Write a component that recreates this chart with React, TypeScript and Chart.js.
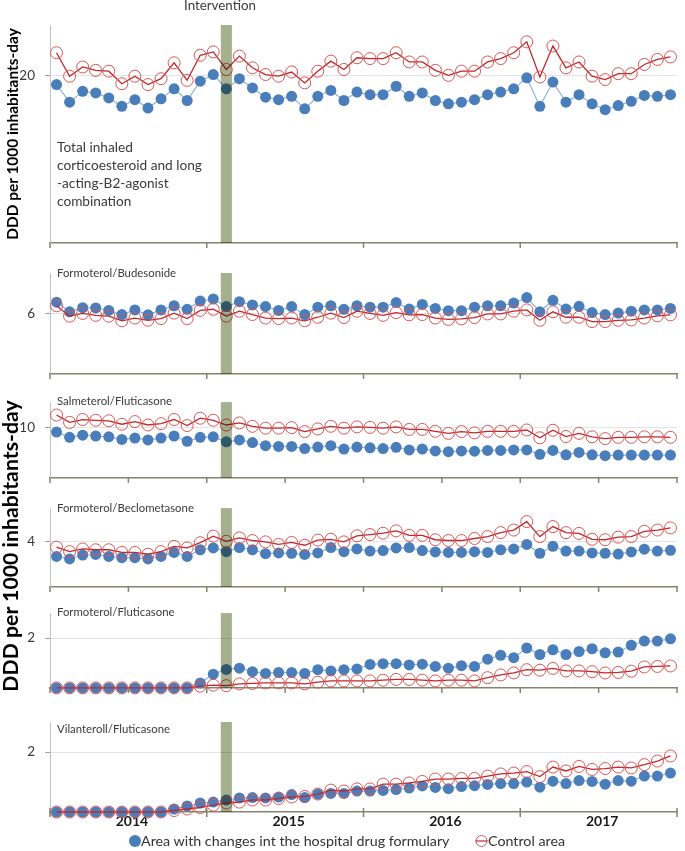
import React, { useEffect, useRef } from "react";
import { Chart, registerables } from "chart.js";

Chart.register(...registerables);

// ---------- categories ----------
const years = ["2014", "2015", "2016", "2017"];
const months = ["Jan", "Feb", "Mar", "Apr", "May", "Jun", "Jul", "Aug", "Sep", "Oct", "Nov", "Dec"];
const categories = years.flatMap((y) => months.map((m) => `${m} ${y}`));
const interventionMonth = "Feb 2015";

const seriesNames = ["Area with changes int the hospital drug formulary", "Control area"];
const yAxisTitle = "DDD per 1000 inhabitants-day";
const interventionLabel = "Intervention";
const totalTitleLines = ["Total inhaled", "corticoesteroid and long", "-acting-B2-agonist", "combination"];

// ---------- series values (DDD per 1000 inhabitants-day) ----------
const totalArea = [18.9, 16.8, 18.1, 17.9, 17.3, 16.3, 17.1, 16.1, 17.2, 18.4, 17.0, 19.3, 20.1, 18.4, 19.6, 18.5, 17.4, 17.1, 17.5, 16.0, 17.5, 18.2, 17.0, 18.0, 17.7, 17.7, 18.7, 17.5, 17.9, 17.0, 16.6, 16.8, 17.1, 17.7, 18.0, 18.4, 19.7, 16.3, 19.2, 16.8, 17.7, 16.6, 15.9, 16.4, 16.9, 17.6, 17.5, 17.7];
const totalControl = [22.7, 19.9, 21.0, 20.6, 20.5, 19.0, 19.9, 18.9, 19.6, 21.5, 19.4, 22.4, 22.8, 20.7, 22.3, 20.9, 20.1, 19.9, 20.4, 19.1, 20.5, 21.7, 20.7, 22.1, 22.0, 22.0, 22.7, 21.6, 21.6, 20.6, 20.0, 20.5, 20.5, 21.6, 22.0, 22.7, 24.0, 19.8, 23.5, 20.9, 21.6, 19.9, 19.5, 20.2, 20.2, 21.3, 21.9, 22.2];

const budArea = [7.11, 6.16, 6.57, 6.54, 6.3, 5.89, 6.35, 5.86, 6.35, 6.76, 6.41, 7.22, 7.43, 6.68, 7.16, 6.84, 6.68, 6.3, 6.68, 5.89, 6.62, 6.76, 6.41, 6.76, 6.62, 6.62, 7.08, 6.43, 6.89, 6.49, 6.27, 6.27, 6.62, 6.76, 6.76, 7.03, 7.57, 6.16, 7.3, 6.43, 6.7, 6.08, 5.89, 6.03, 6.22, 6.35, 6.35, 6.49];
const budControl = [6.76, 5.73, 6.0, 5.81, 5.73, 5.27, 5.54, 5.32, 5.49, 6.03, 5.49, 6.3, 6.41, 5.73, 6.22, 5.89, 5.54, 5.49, 5.54, 5.27, 5.62, 6.03, 5.59, 6.22, 6.0, 5.81, 6.08, 5.86, 5.89, 5.54, 5.41, 5.46, 5.59, 5.95, 5.95, 6.22, 6.35, 5.32, 6.16, 5.62, 5.62, 5.19, 5.19, 5.32, 5.35, 5.54, 5.76, 5.86];

const salArea = [9.07, 8.03, 8.45, 8.29, 8.13, 7.62, 7.88, 7.51, 7.88, 8.29, 7.25, 8.03, 8.13, 7.15, 7.51, 6.99, 6.37, 6.22, 6.22, 5.8, 6.11, 6.37, 5.7, 6.11, 5.96, 5.8, 6.06, 5.54, 5.7, 5.34, 5.18, 5.34, 5.28, 5.44, 5.44, 5.54, 5.54, 4.66, 5.44, 4.56, 5.03, 4.56, 4.4, 4.51, 4.51, 4.51, 4.51, 4.51];
const salControl = [12.44, 10.98, 11.55, 11.4, 11.3, 10.62, 11.14, 10.47, 10.73, 11.55, 10.36, 11.81, 11.4, 10.47, 10.88, 10.21, 9.84, 9.84, 9.95, 9.17, 9.69, 10.21, 9.84, 10.1, 10.0, 9.84, 10.1, 9.59, 9.59, 9.22, 8.81, 9.17, 8.91, 9.22, 9.22, 9.22, 9.48, 7.93, 9.43, 8.19, 8.81, 8.13, 7.77, 8.03, 8.03, 8.13, 8.13, 8.03];

const becArea = [2.71, 2.48, 2.83, 2.88, 2.71, 2.6, 2.6, 2.48, 2.71, 3.06, 2.71, 3.3, 3.46, 3.13, 3.49, 3.3, 2.95, 3.02, 2.99, 2.88, 3.02, 3.49, 3.13, 3.37, 3.18, 3.23, 3.46, 3.49, 3.23, 3.11, 3.06, 3.06, 3.13, 3.06, 3.3, 3.37, 3.77, 2.99, 3.6, 3.18, 3.18, 3.02, 2.99, 2.92, 3.11, 3.35, 3.18, 3.25];
const becControl = [3.53, 3.13, 3.37, 3.3, 3.3, 3.06, 3.06, 2.9, 3.13, 3.6, 3.46, 3.93, 4.51, 4.05, 4.35, 4.12, 4.0, 3.77, 3.95, 3.7, 4.16, 4.23, 4.0, 4.54, 4.65, 4.77, 4.98, 4.58, 4.58, 4.19, 4.12, 4.12, 4.3, 4.47, 4.82, 5.05, 5.8, 4.47, 5.36, 4.82, 4.75, 4.23, 4.19, 4.42, 4.47, 4.94, 5.05, 5.24];

const fluArea = [0, 0, 0, 0, 0, 0, 0, 0, 0, 0, 0, 0.2, 0.55, 0.74, 0.79, 0.65, 0.58, 0.62, 0.62, 0.58, 0.73, 0.68, 0.73, 0.76, 0.94, 0.97, 0.97, 0.92, 0.95, 0.86, 0.79, 0.89, 0.86, 1.15, 1.31, 1.21, 1.6, 1.34, 1.53, 1.34, 1.46, 1.57, 1.41, 1.44, 1.71, 1.88, 1.88, 1.97];
const fluControl = [0, 0, 0, 0, 0, 0, 0, 0, 0, 0, 0, 0.07, 0.11, 0.09, 0.16, 0.18, 0.2, 0.2, 0.2, 0.16, 0.23, 0.28, 0.28, 0.28, 0.28, 0.31, 0.34, 0.34, 0.31, 0.28, 0.31, 0.31, 0.28, 0.41, 0.52, 0.6, 0.73, 0.71, 0.78, 0.68, 0.68, 0.65, 0.6, 0.62, 0.67, 0.84, 0.86, 0.88];

const vilArea = [0, 0, 0, 0, 0, 0, 0, 0, 0, 0.1, 0.2, 0.3, 0.33, 0.4, 0.47, 0.48, 0.47, 0.5, 0.58, 0.48, 0.6, 0.62, 0.62, 0.7, 0.7, 0.72, 0.75, 0.8, 0.87, 0.82, 0.78, 0.85, 0.88, 0.92, 0.95, 0.95, 1.0, 0.83, 1.03, 0.95, 1.05, 1.02, 0.93, 1.05, 1.03, 1.2, 1.2, 1.3];
const vilControl = [0, 0, 0, 0, 0, 0, 0, 0, 0, 0.05, 0.1, 0.15, 0.23, 0.3, 0.33, 0.4, 0.4, 0.45, 0.5, 0.52, 0.6, 0.73, 0.7, 0.77, 0.77, 0.93, 0.93, 0.97, 1.02, 1.1, 1.1, 1.12, 1.12, 1.2, 1.27, 1.3, 1.35, 1.18, 1.5, 1.37, 1.52, 1.42, 1.45, 1.5, 1.47, 1.58, 1.7, 1.87];

const panelNames = ["", "Formoterol/Budesonide", "Salmeterol/Fluticasone", "Formoterol/Beclometasone", "Formoterol/Fluticasone", "Vilanteroll/Fluticasone"];
const panelMax = [26, 10, 15, 7, 3, 3];
const panelTick = [20, 6, 10, 4, 2, 2];

// ---------- layout (pixels) ----------
const W = 685;
const AXIS_LEFT = 50;
const PAD_RIGHT = 8;
const PAD_TOP = 8;
const panelLayout = [
  { top: 15, bottom: 253, every: 12, up: 0, down: 5 },
  { top: 263, bottom: 384, every: 12, up: 0, down: 5 },
  { top: 392, bottom: 488, every: 6, up: 0, down: 5 },
  { top: 498, bottom: 597, every: 6, up: 0, down: 5 },
  { top: 603, bottom: 698, every: 6, up: 0, down: 5 },
  { top: 712, bottom: 812, every: 12, up: -4, down: 5 },
];
const panelSeries = [
  [totalArea, totalControl],
  [budArea, budControl],
  [salArea, salControl],
  [becArea, becControl],
  [fluArea, fluControl],
  [vilArea, vilControl],
];

const FONT = "Lato";
const BLUE = "#4a7ebb";
const BLUE_LINE = "#8db3e2";
const RED_LINE = "#c0282d";
const RED_MARK = "#dc5555";
const BAR = "#a5b08f";
const AXIS = "#86846c";

let mctx: CanvasRenderingContext2D | null = null;
function fitSize(text: string, weight: number, target: number): number {
  if (!mctx) mctx = document.createElement("canvas").getContext("2d");
  if (!mctx) return 13;
  mctx.font = `${weight} 100px ${FONT}`;
  const w = mctx.measureText(text).width;
  return (100 * target) / w;
}

const axisMarks = {
  id: "axisMarks",
  afterDraw(chart: any, _args: any, opts: any) {
    const xs = chart.scales.x;
    const { ctx, chartArea } = chart;
    const step = xs.getPixelForValue(1) - xs.getPixelForValue(0);
    ctx.save();
    ctx.strokeStyle = AXIS;
    ctx.lineWidth = 1.5;
    for (let k = 0; k <= categories.length; k += opts.every) {
      const x = xs.getPixelForValue(k) - step / 2;
      ctx.beginPath();
      ctx.moveTo(x, chartArea.bottom + opts.up);
      ctx.lineTo(x, chartArea.bottom + opts.down);
      ctx.stroke();
    }
    ctx.restore();
  },
};

const multiplyBar = {
  id: "multiplyBar",
  beforeDatasetDraw(chart: any, args: any) {
    if (args.meta.type === "bar") {
      chart.ctx.save();
      chart.ctx.globalCompositeOperation = "multiply";
    }
  },
  afterDatasetDraw(chart: any, args: any) {
    if (args.meta.type === "bar") chart.ctx.restore();
  },
};

function Panel({ i }: { i: number }) {
  const ref = useRef<HTMLCanvasElement>(null);
  const lay = panelLayout[i];
  const last = i === panelLayout.length - 1;
  const xH = last ? 28 : 8;
  const h = PAD_TOP + (lay.bottom - lay.top) + xH;

  useEffect(() => {
    const [area, control] = panelSeries[i];
    const max = panelMax[i];
    const tick = panelTick[i];
    const chart = new Chart(ref.current as HTMLCanvasElement, {
      type: "line",
      data: {
        labels: categories,
        datasets: [
          {
            type: "bar",
            label: interventionLabel,
            data: categories.map((c) => (c === interventionMonth ? max : null)),
            backgroundColor: BAR,
            borderWidth: 0,
            barPercentage: 0.85,
            categoryPercentage: 1,
            order: 0,
          } as any,
          {
            label: seriesNames[0],
            data: area,
            borderColor: BLUE_LINE,
            borderWidth: 1.2,
            pointRadius: 5.5,
            pointBackgroundColor: BLUE,
            pointBorderColor: BLUE,
            pointBorderWidth: 0,
            tension: 0,
            clip: false,
            order: 2,
          } as any,
          {
            label: seriesNames[1],
            data: control,
            borderColor: RED_LINE,
            borderWidth: 1.3,
            pointRadius: 6,
            pointBackgroundColor: "rgba(0,0,0,0)",
            pointBorderColor: RED_MARK,
            pointBorderWidth: 1,
            tension: 0,
            clip: false,
            order: 1,
          } as any,
        ],
      },
      options: {
        animation: false,
        responsive: false,
        layout: { padding: { top: PAD_TOP, right: PAD_RIGHT, left: 0, bottom: 0 } },
        plugins: {
          legend: { display: false },
          tooltip: { enabled: false },
          axisMarks: { every: lay.every, up: lay.up, down: lay.down },
        } as any,
        scales: {
          x: {
            type: "category",
            offset: true,
            grid: { display: false, drawTicks: false, tickLength: 0 },
            border: { display: true, color: AXIS, width: 1.5 },
            ticks: last
              ? {
                  display: true,
                  autoSkip: false,
                  maxRotation: 0,
                  minRotation: 0,
                  padding: 1,
                  labelOffset: -3,
                  font: { family: FONT, size: 14, weight: "bold" },
                  color: "#1a1a1a",
                  callback: (_v: any, idx: number) => (idx % 12 === 6 ? years[Math.floor(idx / 12)] : ""),
                }
              : { display: false },
            afterFit: (s: any) => {
              s.height = xH;
            },
          },
          y: {
            min: 0,
            max,
            afterBuildTicks: (s: any) => {
              s.ticks = [{ value: tick }];
            },
            afterFit: (s: any) => {
              s.width = AXIS_LEFT;
            },
            grid: { color: "#e4e4e4", lineWidth: 1, drawTicks: true, tickLength: 5, tickColor: "#a0a0a0" },
            border: { display: true, color: "#c2c2c2", width: 1 },
            ticks: { font: { family: FONT, size: 13.5 }, color: "#3a3a3a", padding: 10 },
          },
        },
      } as any,
      plugins: [axisMarks, multiplyBar],
    });
    return () => chart.destroy();
  }, [i]);

  return (
    <div style={{ position: "absolute", left: 0, top: lay.top - PAD_TOP, width: W, height: h }}>
      <canvas ref={ref} width={W} height={h} style={{ display: "block" }} />
    </div>
  );
}

function Label(props: { text: string; x: number; cy: number; size: number; weight?: number; color?: string }) {
  const { text, x, cy, size, weight = 400, color = "#3a3a3a" } = props;
  return (
    <div
      style={{
        position: "absolute",
        left: x,
        top: cy,
        transform: "translateY(-50%)",
        fontFamily: FONT,
        fontSize: size,
        fontWeight: weight,
        lineHeight: 1,
        color,
        whiteSpace: "nowrap",
      }}
    >
      {text}
    </div>
  );
}

function VLabel(props: { text: string; cx: number; cy: number; size: number }) {
  const { text, cx, cy, size } = props;
  return (
    <div
      style={{
        position: "absolute",
        left: cx,
        top: cy,
        transform: "translate(-50%, -50%) rotate(-90deg)",
        fontFamily: FONT,
        fontSize: size,
        fontWeight: 700,
        lineHeight: 1,
        color: "#000",
        whiteSpace: "nowrap",
      }}
    >
      {text}
    </div>
  );
}

export default function App() {
  const panelSize = fitSize("Formoterol/Beclometasone", 400, 137);
  const totalSize = fitSize(totalTitleLines[1], 400, 145);
  const intSize = fitSize(interventionLabel, 400, 72);
  const smallTitle = fitSize(yAxisTitle, 700, 212);
  const bigTitle = fitSize(yAxisTitle, 700, 292);
  const legSize = fitSize(seriesNames[0], 400, 309);
  const panelLabelY = [0, 273, 401, 508, 612, 729];

  return (
    <div style={{ position: "absolute", left: 0, top: 0, width: W, height: 851, background: "#fff", overflow: "hidden" }}>
      {panelLayout.map((_, i) => (
        <Panel key={i} i={i} />
      ))}

      <Label text={interventionLabel} x={184} cy={6} size={intSize} />
      {totalTitleLines.map((t, k) => (
        <Label key={k} text={t} x={57} cy={148 + k * 18} size={totalSize} />
      ))}
      {panelNames.map((n, i) => (n ? <Label key={i} text={n} x={57} cy={panelLabelY[i]} size={panelSize} /> : null))}

      <VLabel text={yAxisTitle} cx={13} cy={134} size={smallTitle} />
      <VLabel text={yAxisTitle} cx={11} cy={546} size={bigTitle} />

      <svg style={{ position: "absolute", left: 128, top: 834 }} width={14} height={14}>
        <circle cx={7} cy={7} r={6} fill={BLUE} />
      </svg>
      <Label text={seriesNames[0]} x={141} cy={841} size={legSize} color="#333" />
      <svg style={{ position: "absolute", left: 474, top: 834 }} width={15} height={14}>
        <circle cx={7.5} cy={7} r={5.5} fill="none" stroke={RED_MARK} strokeWidth={1} />
        <line x1={1.5} y1={7} x2={13.5} y2={7} stroke={RED_LINE} strokeWidth={1.2} />
      </svg>
      <Label text={seriesNames[1]} x={488} cy={841} size={legSize} color="#333" />
    </div>
  );
}
